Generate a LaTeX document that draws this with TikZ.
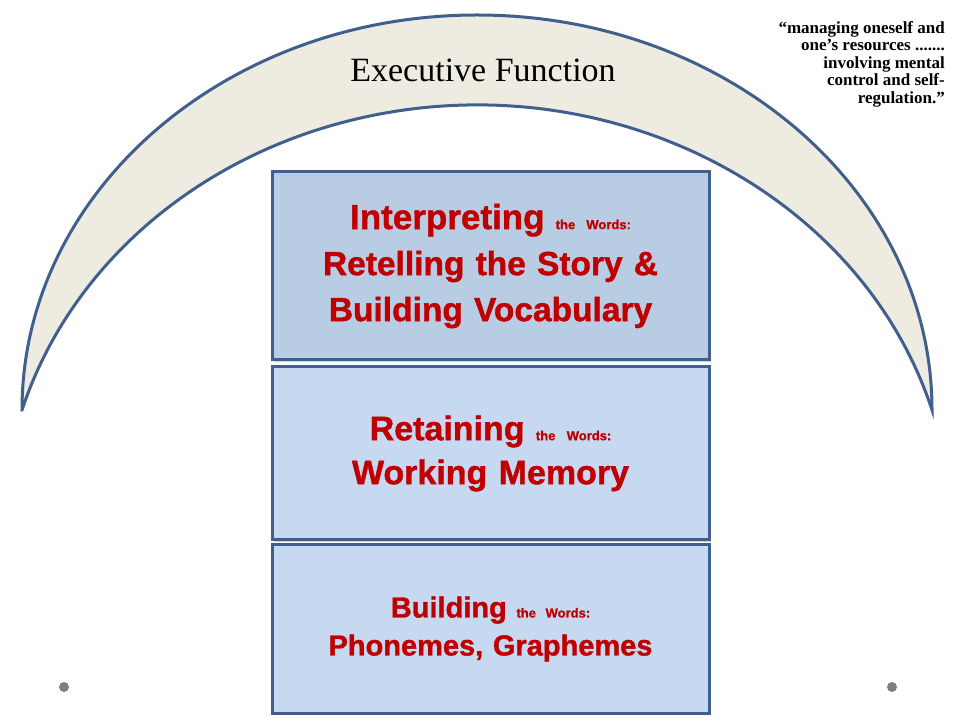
\documentclass[tikz,border=0pt]{standalone}
\usepackage{fontspec}
\setmainfont{Liberation Serif}
\newfontfamily\heavyfont[FakeBold=1.2]{Liberation Sans}
\usetikzlibrary{shadows}

\definecolor{arcline}{RGB}{65,95,140}
\definecolor{arcfill}{RGB}{238,236,225}
\definecolor{boxtop}{RGB}{184,204,228}
\definecolor{boxlow}{RGB}{198,217,241}
\definecolor{wordred}{RGB}{192,0,0}
\definecolor{dotgray}{RGB}{128,128,128}

\newcommand{\smallwords}{{\fontsize{13}{13}\selectfont the Words:}}

\begin{document}
\begin{tikzpicture}[x=1pt, y=1pt,
    layer/.style={rectangle, draw=arcline, line width=3pt,
                  minimum width=437pt, text width=420pt, align=center,
                  text=wordred, font=\heavyfont\bfseries\fontsize{33.5}{46}\selectfont,
                  drop shadow={shadow xshift=2pt, shadow yshift=-2pt, opacity=0.35}},
    title/.style={font=\fontsize{34}{34}\selectfont, text=black},
    quote/.style={font=\bfseries\fontsize{17}{17.5}\selectfont, align=right, inner sep=0pt},
    dot/.style={circle, fill=dotgray, minimum size=10pt, inner sep=0pt}
  ]
    \useasboundingbox[fill=white] (0,0) rectangle (960,720);

    % Executive function arc
    \filldraw[fill=arcfill, draw=arcline, line width=3pt]
      (22,310) arc[start angle=180, end angle=0, x radius=455, y radius=395]
      arc[start angle=16.4, end angle=163.6, x radius=474.3, y radius=425] -- cycle;

    \node[title] (exec) at (483,650) {Executive Function};

    % Quote (top right)
    \node[quote, anchor=north east] (quote) at (945,699) {
      ``managing oneself and\\
      one's resources .......\\
      involving mental\\
      control and self-\\
      regulation.''
    };

    % Layers
    \node[layer, fill=boxtop, minimum height=188pt] (interpret) at (490.5,454) {
      {\fontsize{35}{46}\selectfont Interpreting} \smallwords\\
      Retelling the Story \&\\
      Building Vocabulary
    };
    \node[layer, fill=boxlow, minimum height=173pt,
          font=\heavyfont\bfseries\fontsize{34}{44}\selectfont] (retain) at (490.5,266.5) {
      Retaining \smallwords\\
      Working Memory
    };
    \node[layer, fill=boxlow, minimum height=168pt,
          font=\heavyfont\bfseries\fontsize{29}{38}\selectfont] (build) at (490.5,91) {
      Building \smallwords\\
      Phonemes, Graphemes
    };

    % Dots
    \node[dot] (dotl) at (64,33) {};
    \node[dot] (dotr) at (892,33) {};

  \end{tikzpicture}
\end{document}
